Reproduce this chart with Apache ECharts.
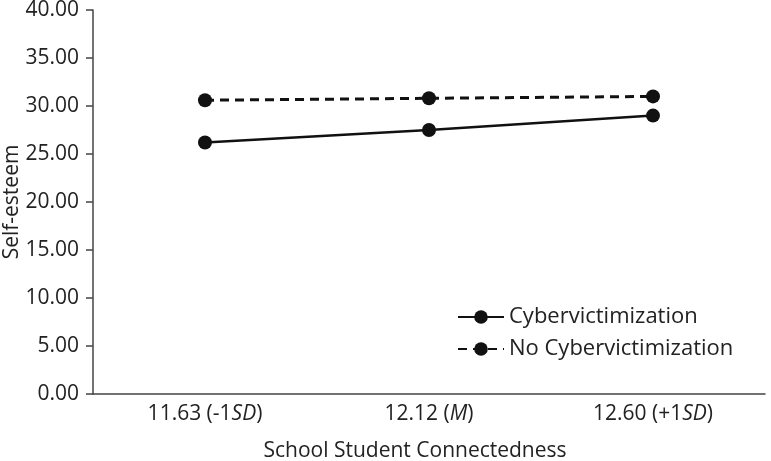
<!DOCTYPE html>
<html><head><meta charset="utf-8">
<script src="https://cdn.jsdelivr.net/npm/echarts@6/dist/echarts.min.js"></script>
<style>html,body{margin:0;padding:0;background:#fff}#c{width:771px;height:461px}</style>
</head><body><div id="c"></div>
<script>
const categories = ['11.63 (-1{i|SD})', '12.12 ({i|M})', '12.60 (+1{i|SD})'];
const cyber = [26.2, 27.5, 29.0];
const noCyber = [30.6, 30.8, 31.0];
const yTicks = [0, 5, 10, 15, 20, 25, 30, 35, 40];
const FONT = 'Open Sans';
const chart = echarts.init(document.getElementById('c'));
chart.setOption({
  animation: false,
  textStyle: {fontFamily: FONT, color: '#222'},
  grid: {left: 93, right: 6, top: 10, bottom: 67, containLabel: false, outerBoundsMode: 'none'},
  legend: {
    orient: 'vertical', left: 452, top: 301, itemGap: 10,
    itemWidth: 46, itemHeight: 17,
    textStyle: {fontFamily: FONT, fontSize: 22, color: '#222'},
    data: ['Cybervictimization', 'No Cybervictimization']
  },
  xAxis: {
    type: 'category', data: categories,
    axisLine: {lineStyle: {color: '#444', width: 1.5}},
    axisTick: {show: false},
    axisLabel: {
      fontFamily: FONT, fontSize: 21, color: '#222', margin: 10,
      rich: {i: {fontStyle: 'italic', fontFamily: FONT, fontSize: 21, color: '#222'}}
    },
    name: 'School Student Connectedness', nameLocation: 'middle', nameGap: 47,
    nameTextStyle: {fontFamily: FONT, fontSize: 21, color: '#222', padding: [0, 28, 0, 0]}
  },
  yAxis: {
    type: 'value', min: yTicks[0], max: yTicks[yTicks.length - 1], interval: 5,
    axisLine: {show: true, lineStyle: {color: '#444', width: 1.5}},
    axisTick: {show: true, length: 7, lineStyle: {color: '#444', width: 1.5}},
    splitLine: {show: false},
    axisLabel: {fontFamily: FONT, fontSize: 21, color: '#222', margin: 14,
      formatter: v => v.toFixed(2)},
    name: 'Self-esteem', nameLocation: 'middle', nameGap: 70, nameMoveOverlap: false,
    nameTextStyle: {fontFamily: FONT, fontSize: 21, color: '#222'}
  },
  series: [
    {name: 'Cybervictimization', type: 'line', data: cyber,
     symbol: 'circle', symbolSize: 14,
     itemStyle: {color: '#111'}, lineStyle: {color: '#111', width: 2.5, type: 'solid'}},
    {name: 'No Cybervictimization', type: 'line', data: noCyber,
     symbol: 'circle', symbolSize: 14,
     itemStyle: {color: '#111'}, lineStyle: {color: '#111', width: 3, type: [9, 6]}}
  ]
});
</script></body></html>
